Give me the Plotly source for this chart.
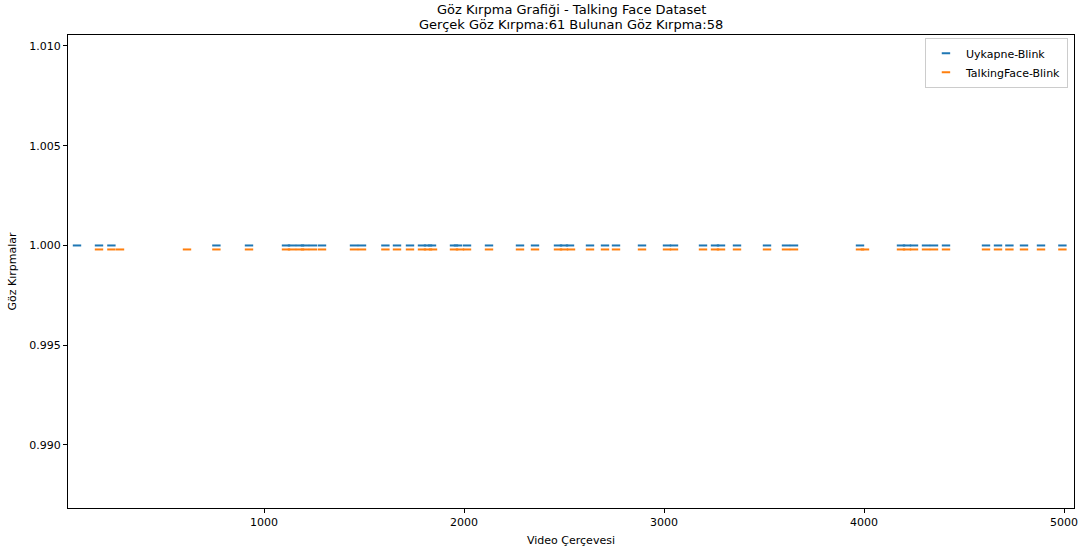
import plotly.graph_objects as go

# Blink frames from ground truth (Uykapne) and detector (TalkingFace)
uykapne_frames = [65, 175, 237, 762, 925, 1110, 1140, 1180, 1205, 1245, 1290,
                  1450, 1490, 1607, 1665, 1730, 1790, 1820, 1840, 1950, 1970,
                  2015, 2125, 2280, 2355, 2470, 2500, 2530, 2630, 2705, 2760,
                  2890, 3015, 3050, 3195, 3255, 3285, 3365, 3515, 3610, 3650,
                  3980, 4185, 4215, 4250, 4310, 4350, 4410, 4610, 4670, 4727,
                  4800, 4885, 4992]
talkingface_frames = [175, 237, 280, 615, 762, 925, 1110, 1140, 1180, 1205, 1245,
                      1290, 1450, 1490, 1607, 1665, 1730, 1790, 1820, 1845, 1950,
                      1980, 2015, 2125, 2280, 2355, 2470, 2500, 2535, 2630, 2705,
                      2760, 2890, 3015, 3050, 3195, 3255, 3285, 3365, 3515, 3610,
                      3650, 3980, 4005, 4185, 4215, 4250, 4310, 4350, 4410, 4610,
                      4670, 4727, 4800, 4885, 4992]
uykapne_level = 1.0
talkingface_level = 0.9998

x_ticks = [1000, 2000, 3000, 4000, 5000]
y_ticks = [0.990, 0.995, 1.000, 1.005, 1.010]
y_tick_text = ["0.990", "0.995", "1.000", "1.005", "1.010"]

title_lines = ["Göz Kırpma Grafiği - Talking Face Dataset",
               "Gerçek Göz Kırpma:61 Bulunan Göz Kırpma:58"]

BLUE = "#1f77b4"
ORANGE = "#ff7f0e"
FONT = "DejaVu Sans"

fig = go.Figure()
fig.add_trace(go.Scatter(
    x=uykapne_frames, y=[uykapne_level] * len(uykapne_frames),
    mode="markers", name="Uykapne-Blink",
    marker=dict(symbol="line-ew", size=6, color=BLUE,
                line=dict(color=BLUE, width=2)),
))
fig.add_trace(go.Scatter(
    x=talkingface_frames, y=[talkingface_level] * len(talkingface_frames),
    mode="markers", name="TalkingFace-Blink",
    marker=dict(symbol="line-ew", size=6, color=ORANGE,
                line=dict(color=ORANGE, width=2)),
))

axis_common = dict(
    showline=True, linecolor="black", linewidth=1, mirror=True,
    showgrid=False, zeroline=False, automargin=False,
    ticks="outside", ticklen=4, tickcolor="black", tickwidth=1,
    tickfont=dict(family=FONT, size=11, color="black"),
)

fig.update_xaxes(
    range=[20, 5050], tickvals=x_ticks,
    title=dict(text="Video Çerçevesi", font=dict(family=FONT, size=11, color="black"),
               standoff=8),
    **axis_common,
)
fig.update_yaxes(
    range=[0.98684, 1.01055], tickvals=y_ticks, ticktext=y_tick_text,
    title=dict(text="Göz Kırpmalar", font=dict(family=FONT, size=11, color="black"),
               standoff=10),
    **axis_common,
)

# Two-line title: each line placed as its own annotation above the plot area
for line, shift in zip(title_lines, (26, 11)):
    fig.add_annotation(
        text=line,
        x=0.5, xref="paper", xanchor="center",
        y=1, yref="paper", yanchor="middle", yshift=shift,
        showarrow=False, borderpad=0,
        font=dict(family=FONT, size=13, color="black"),
    )

fig.update_layout(
    width=1089, height=549,
    margin=dict(l=68, r=15, t=35, b=41),
    paper_bgcolor="white", plot_bgcolor="white",
    font=dict(family=FONT, size=11, color="black"),
    legend=dict(
        x=0.994, y=0.994, xanchor="right", yanchor="top",
        bgcolor="white", bordercolor="#cccccc", borderwidth=1,
        font=dict(family=FONT, size=11, color="black"),
        itemwidth=30, tracegroupgap=2,
    ),
    showlegend=True,
)

fig.write_html("out.html")
